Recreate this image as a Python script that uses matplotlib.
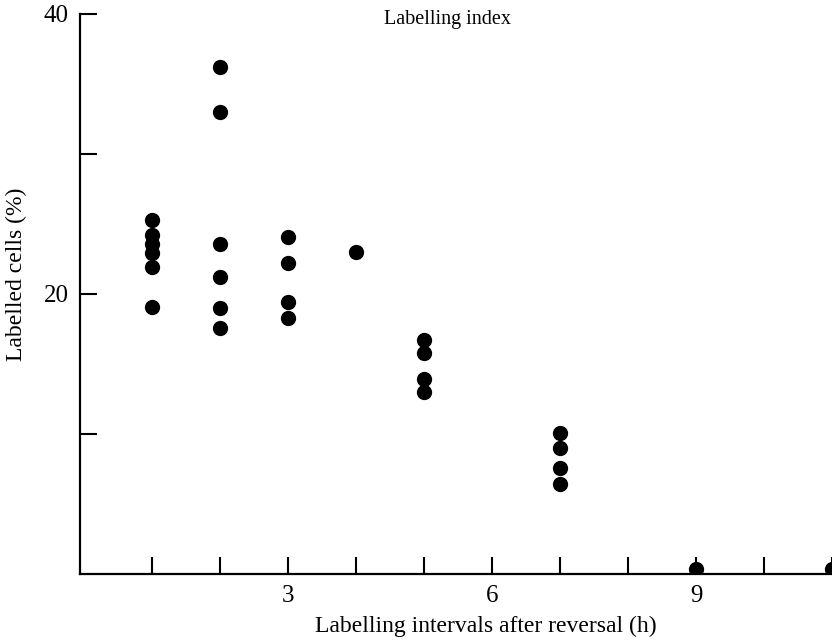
import matplotlib.pyplot as plt

# hours after reversal and labelled cells (%)
hours = [1, 1, 1, 1, 1, 1,
         2, 2, 2, 2, 2, 2,
         3, 3, 3, 3,
         4,
         5, 5, 5, 5,
         7, 7, 7, 7,
         9, 11]
labelled = [25.3, 24.2, 23.6, 22.9, 21.9, 19.1,
            36.2, 33.0, 23.6, 21.2, 19.0, 17.6,
            24.1, 22.2, 19.4, 18.3,
            23.0,
            16.7, 15.8, 13.9, 13.0,
            10.1, 9.0, 7.6, 6.4,
            0.35, 0.35]

x_ticks = list(range(1, 12))
x_labels = ['' if t not in (3, 6, 9) else str(t) for t in x_ticks]
y_ticks = [10, 20, 30, 40]
y_labels = ['', '20', '', '40']

plt.rcParams['font.family'] = ['Liberation Serif', 'DejaVu Serif']

fig = plt.figure(figsize=(8.32, 6.41), dpi=100)
ax = fig.add_axes([80 / 832, 67 / 641, 752 / 832, 560 / 641])

ax.plot(hours, labelled, 'o', color='black', markersize=10, clip_on=True)

ax.set_xlim(-0.06, 11.0)
ax.set_ylim(0, 40)

for s in ['top', 'right']:
    ax.spines[s].set_visible(False)
for s in ['left', 'bottom']:
    ax.spines[s].set_linewidth(1.6)

ax.set_xticks(x_ticks)
ax.set_xticklabels(x_labels)
ax.set_yticks(y_ticks)
ax.set_yticklabels(y_labels)
ax.tick_params(axis='both', direction='in', length=12, width=1.5, labelsize=18)
ax.tick_params(axis='x', pad=8)
ax.tick_params(axis='y', pad=8)

ax.set_xlabel('Labelling intervals after reversal (h)', fontsize=17)
ax.xaxis.set_label_coords(0.539, -0.075)
ax.set_ylabel('Labelled cells (%)', fontsize=17)
ax.yaxis.set_label_coords(-0.070, 0.536)

ax.text(0.489, 0.99, 'Labelling index', transform=ax.transAxes,
        ha='center', va='center', fontsize=14.5)

fig.savefig('out.png', dpi=100)
